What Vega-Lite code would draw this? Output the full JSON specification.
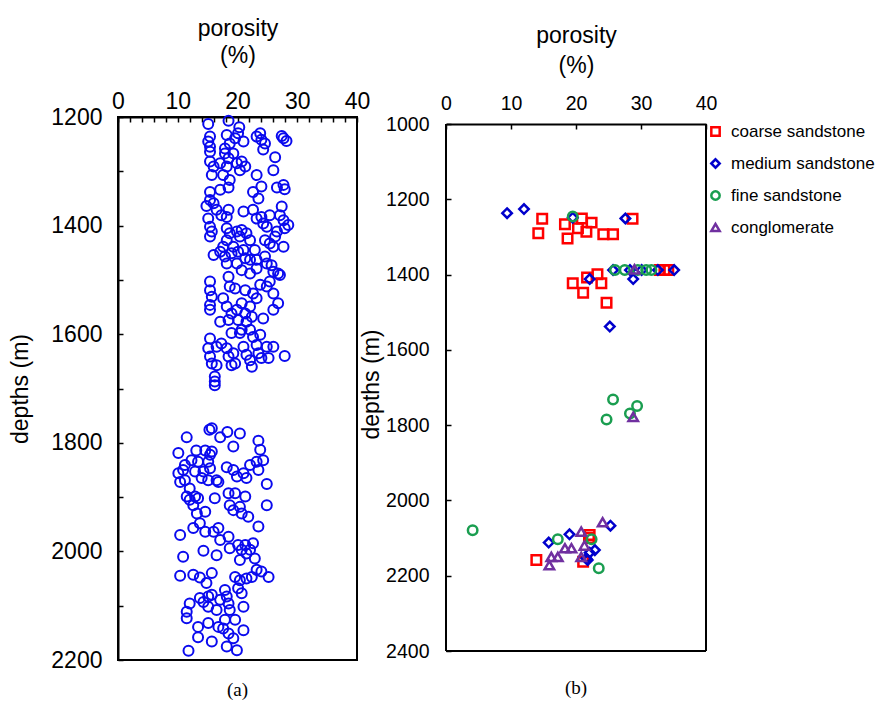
{
  "$schema": "https://vega.github.io/schema/vega-lite/v6.json",
  "background": "white",
  "padding": {"left": 8, "top": 16, "right": 0, "bottom": 0},
  "spacing": -11,
  "config": {
    "font": "Liberation Sans",
    "view": {"stroke": "black", "strokeWidth": 2},
    "axis": {"domainColor": "black", "domainWidth": 2, "tickColor": "black", "tickWidth": 1.5, "tickSize": -5, "labelColor": "black", "titleColor": "black", "labelFontSize": 23, "titleFontSize": 23, "titleFontWeight": "normal", "grid": false, "labelFlush": false, "labelOverlap": false, "labelBound": false, "labelFont": "Liberation Sans", "titleFont": "Liberation Sans", "titleLineHeight": 27},
    "legend": {"labelFont": "Liberation Sans", "labelFontSize": 17, "labelColor": "black"}
  },
  "hconcat": [
    {
      "width": 239,
      "height": 543,
      "data": {"name": "wellA"},
      "mark": {"type": "point", "shape": "circle", "filled": false, "color": "#0a0aee", "size": 100, "strokeWidth": 2, "opacity": 1},
      "encoding": {
        "x": {"field": "porosity", "type": "quantitative", "scale": {"domain": [0, 40], "nice": false, "zero": false},
          "axis": {"orient": "top", "title": ["porosity", "(%)"], "values": [0,2,4,6,8,10,12,14,16,18,20,22,24,26,28,30,32,34,36,38,40], "labelExpr": "datum.value % 10 === 0 ? datum.label : ''", "labelPadding": 9, "titlePadding": 23}},
        "y": {"field": "depth", "type": "quantitative", "scale": {"domain": [1200, 2200], "reverse": true, "nice": false, "zero": false},
          "axis": {"title": "depths (m)", "format": "d", "values": [1200,1300,1400,1500,1600,1700,1800,1900,2000,2100,2200], "labelExpr": "datum.value % 200 === 0 ? datum.label : ''", "labelPadding": 21, "titlePadding": 18}}
      },
      "title": {"text": "(a)", "orient": "bottom", "frame": "group", "anchor": "middle", "font": "Liberation Serif", "fontSize": 19, "fontWeight": "normal", "offset": 9, "color": "black"}
    },
    {
      "width": 260,
      "height": 534,
      "view": {"stroke": null},
      "title": {"text": "(b)", "orient": "bottom", "frame": "group", "anchor": "middle", "font": "Liberation Serif", "fontSize": 19, "fontWeight": "normal", "offset": 18, "color": "black"},
      "layer": [
        {
          "data": {"name": "wellB"},
          "mark": {"type": "point", "filled": false, "size": 90, "strokeWidth": 2.5, "opacity": 1},
          "encoding": {
            "x": {"field": "porosity", "type": "quantitative", "scale": {"domain": [0, 40], "nice": false, "zero": false},
              "axis": {"orient": "top", "offset": -7, "title": ["porosity", "(%)"], "values": [0,10,20,30,40], "labelFontSize": 19.5, "labelPadding": 16, "titlePadding": 16, "titleLineHeight": 30}},
            "y": {"field": "depth", "type": "quantitative", "scale": {"domain": [981.4, 2400], "reverse": true, "nice": false, "zero": false},
              "axis": {"title": "depths (m)", "format": "d", "values": [1000,1200,1400,1600,1800,2000,2200,2400], "domain": false, "labelFontSize": 19.5, "labelPadding": 22, "titlePadding": 2}},
            "color": {"field": "type", "type": "nominal",
              "scale": {"domain": ["coarse sandstone", "medium sandstone", "fine sandstone", "conglomerate"], "range": ["#ff0000", "#0000cc", "#1a9e50", "#7030a0"]},
              "legend": {"title": null, "orient": "right", "offset": -16, "padding": 6, "symbolSize": 70, "symbolStrokeWidth": 2.5, "rowPadding": 13, "labelOffset": 7}},
            "shape": {"field": "type", "type": "nominal",
              "scale": {"domain": ["coarse sandstone", "medium sandstone", "fine sandstone", "conglomerate"], "range": ["square", "diamond", "circle", "triangle-up"]},
              "legend": {"title": null, "orient": "right", "offset": -16, "padding": 6, "symbolSize": 70, "symbolStrokeWidth": 2.5, "rowPadding": 13, "labelOffset": 7}}
          }
        },
        {
          "data": {"values": [{}]},
          "mark": {"type": "rule", "color": "black", "strokeWidth": 2},
          "encoding": {
            "x": {"datum": 0, "type": "quantitative", "scale": {"domain": [0, 40], "nice": false, "zero": false}},
            "y": {"datum": 1000, "type": "quantitative", "scale": {"domain": [981.4, 2400], "reverse": true, "nice": false, "zero": false}},
            "y2": {"datum": 2400}
          }
        },
        {
          "data": {"values": [{}]},
          "mark": {"type": "rule", "color": "black", "strokeWidth": 2},
          "encoding": {
            "x": {"datum": 40, "type": "quantitative", "scale": {"domain": [0, 40], "nice": false, "zero": false}},
            "y": {"datum": 1000, "type": "quantitative", "scale": {"domain": [981.4, 2400], "reverse": true, "nice": false, "zero": false}},
            "y2": {"datum": 2400}
          }
        },
        {
          "data": {"values": [{}]},
          "mark": {"type": "rule", "color": "black", "strokeWidth": 2},
          "encoding": {
            "x": {"datum": 0, "type": "quantitative", "scale": {"domain": [0, 40], "nice": false, "zero": false}},
            "x2": {"datum": 40},
            "y": {"datum": 2400, "type": "quantitative", "scale": {"domain": [981.4, 2400], "reverse": true, "nice": false, "zero": false}}
          }
        }
      ]
    }
  ],
  "datasets": {
    "wellA": [
      {"porosity":15.1,"depth":1213},{"porosity":18.5,"depth":1207},{"porosity":20.3,"depth":1219},{"porosity":15.4,"depth":1236},{"porosity":15.1,"depth":1245},{"porosity":15.4,"depth":1255},{"porosity":18.2,"depth":1233},{"porosity":18.7,"depth":1249},{"porosity":17.9,"depth":1258},{"porosity":19.6,"depth":1239},{"porosity":20.1,"depth":1230},{"porosity":21.0,"depth":1245},{"porosity":23.2,"depth":1236},{"porosity":24.0,"depth":1242},{"porosity":24.6,"depth":1249},{"porosity":23.8,"depth":1230},{"porosity":27.7,"depth":1239},{"porosity":28.2,"depth":1244},{"porosity":27.4,"depth":1235},{"porosity":24.3,"depth":1260},
      {"porosity":15.4,"depth":1264},{"porosity":15.4,"depth":1282},{"porosity":16.0,"depth":1291},{"porosity":17.9,"depth":1267},{"porosity":18.5,"depth":1276},{"porosity":19.3,"depth":1267},{"porosity":19.9,"depth":1285},{"porosity":20.7,"depth":1282},{"porosity":21.3,"depth":1291},{"porosity":20.4,"depth":1298},{"porosity":26.3,"depth":1274},{"porosity":15.7,"depth":1307},{"porosity":17.1,"depth":1285},{"porosity":18.2,"depth":1291},{"porosity":17.6,"depth":1307},{"porosity":18.7,"depth":1316},{"porosity":23.2,"depth":1307},{"porosity":26.0,"depth":1298},
      {"porosity":15.4,"depth":1338},{"porosity":17.1,"depth":1334},{"porosity":18.5,"depth":1330},{"porosity":22.6,"depth":1338},{"porosity":24.0,"depth":1328},{"porosity":23.5,"depth":1350},{"porosity":26.6,"depth":1330},{"porosity":27.7,"depth":1325},{"porosity":27.9,"depth":1333},
      {"porosity":14.8,"depth":1364},{"porosity":15.4,"depth":1353},{"porosity":16.0,"depth":1359},{"porosity":16.5,"depth":1371},{"porosity":17.3,"depth":1381},{"porosity":18.5,"depth":1371},{"porosity":18.2,"depth":1384},{"porosity":21.0,"depth":1374},{"porosity":22.6,"depth":1371},{"porosity":23.2,"depth":1387},{"porosity":24.0,"depth":1384},{"porosity":24.3,"depth":1396},{"porosity":24.9,"depth":1402},{"porosity":25.4,"depth":1381},{"porosity":27.1,"depth":1381},{"porosity":27.4,"depth":1365},{"porosity":27.7,"depth":1390},{"porosity":27.9,"depth":1405},{"porosity":28.5,"depth":1399},
      {"porosity":15.1,"depth":1387},{"porosity":15.4,"depth":1402},{"porosity":15.7,"depth":1411},{"porosity":15.4,"depth":1420},{"porosity":18.2,"depth":1405},{"porosity":18.7,"depth":1414},{"porosity":19.9,"depth":1411},{"porosity":20.7,"depth":1408},{"porosity":20.4,"depth":1420},{"porosity":21.5,"depth":1414},{"porosity":22.1,"depth":1427},{"porosity":18.2,"depth":1427},{"porosity":17.6,"depth":1439},{"porosity":17.1,"depth":1448},{"porosity":16.0,"depth":1454},{"porosity":17.9,"depth":1457},{"porosity":19.0,"depth":1451},{"porosity":19.3,"depth":1439},{"porosity":20.1,"depth":1448},{"porosity":21.0,"depth":1445},{"porosity":21.3,"depth":1460},{"porosity":22.1,"depth":1463},{"porosity":22.9,"depth":1445},{"porosity":23.2,"depth":1463},{"porosity":24.6,"depth":1427},{"porosity":25.4,"depth":1433},{"porosity":26.0,"depth":1439},{"porosity":26.3,"depth":1420},{"porosity":27.7,"depth":1439},{"porosity":26.6,"depth":1411},
      {"porosity":18.2,"depth":1470},{"porosity":19.9,"depth":1470},{"porosity":20.7,"depth":1482},{"porosity":22.1,"depth":1488},{"porosity":23.2,"depth":1479},{"porosity":24.6,"depth":1457},{"porosity":24.9,"depth":1470},{"porosity":25.7,"depth":1473},{"porosity":26.0,"depth":1485},{"porosity":26.8,"depth":1488},{"porosity":27.1,"depth":1491},{"porosity":25.4,"depth":1503},
      {"porosity":15.4,"depth":1503},{"porosity":15.4,"depth":1519},{"porosity":15.7,"depth":1531},{"porosity":15.4,"depth":1546},{"porosity":15.4,"depth":1555},{"porosity":17.6,"depth":1534},{"porosity":18.5,"depth":1494},{"porosity":18.7,"depth":1512},{"porosity":19.6,"depth":1516},{"porosity":21.3,"depth":1519},{"porosity":22.6,"depth":1525},{"porosity":23.8,"depth":1509},{"porosity":23.2,"depth":1534},{"porosity":24.9,"depth":1512},{"porosity":26.0,"depth":1525},{"porosity":26.8,"depth":1543},{"porosity":26.0,"depth":1555},
      {"porosity":18.2,"depth":1549},{"porosity":19.0,"depth":1562},{"porosity":19.9,"depth":1555},{"porosity":20.7,"depth":1543},{"porosity":21.3,"depth":1562},{"porosity":22.1,"depth":1549},{"porosity":18.5,"depth":1574},{"porosity":20.1,"depth":1574},{"porosity":21.5,"depth":1577},{"porosity":22.4,"depth":1568},{"porosity":17.1,"depth":1577},{"porosity":20.7,"depth":1592},{"porosity":22.1,"depth":1592},{"porosity":22.6,"depth":1605},{"porosity":23.8,"depth":1601},{"porosity":24.3,"depth":1571},{"porosity":19.0,"depth":1598},{"porosity":20.4,"depth":1598},
      {"porosity":15.4,"depth":1608},{"porosity":15.1,"depth":1626},{"porosity":15.4,"depth":1641},{"porosity":15.7,"depth":1654},{"porosity":16.5,"depth":1623},{"porosity":17.3,"depth":1617},{"porosity":18.2,"depth":1626},{"porosity":18.5,"depth":1641},{"porosity":19.3,"depth":1635},{"porosity":19.6,"depth":1654},{"porosity":21.0,"depth":1623},{"porosity":21.5,"depth":1638},{"porosity":22.1,"depth":1648},{"porosity":22.4,"depth":1660},{"porosity":23.2,"depth":1620},{"porosity":23.5,"depth":1635},{"porosity":24.0,"depth":1644},{"porosity":24.9,"depth":1623},{"porosity":26.0,"depth":1623},{"porosity":25.2,"depth":1644},{"porosity":27.9,"depth":1640},{"porosity":16.5,"depth":1657},{"porosity":19.0,"depth":1657},{"porosity":16.2,"depth":1678},{"porosity":16.2,"depth":1687},{"porosity":16.2,"depth":1694},
      {"porosity":15.3,"depth":1776},{"porosity":15.7,"depth":1773},{"porosity":17.1,"depth":1790},{"porosity":18.3,"depth":1780},{"porosity":20.4,"depth":1783},{"porosity":19.3,"depth":1807},{"porosity":23.5,"depth":1796},{"porosity":11.5,"depth":1790},
      {"porosity":10.1,"depth":1819},{"porosity":11.2,"depth":1841},{"porosity":12.3,"depth":1832},{"porosity":13.1,"depth":1814},{"porosity":13.4,"depth":1835},{"porosity":14.6,"depth":1814},{"porosity":15.4,"depth":1822},{"porosity":15.1,"depth":1835},{"porosity":15.7,"depth":1816},{"porosity":15.4,"depth":1847},{"porosity":14.3,"depth":1853},{"porosity":12.9,"depth":1853},{"porosity":10.9,"depth":1850},{"porosity":10.1,"depth":1856},{"porosity":10.4,"depth":1872},{"porosity":11.2,"depth":1869},{"porosity":12.0,"depth":1884},{"porosity":14.0,"depth":1865},{"porosity":15.1,"depth":1869},{"porosity":16.5,"depth":1869},{"porosity":16.8,"depth":1872},{"porosity":18.2,"depth":1845},{"porosity":19.3,"depth":1850},{"porosity":19.9,"depth":1862},{"porosity":21.0,"depth":1856},{"porosity":21.5,"depth":1865},{"porosity":22.1,"depth":1841},{"porosity":23.2,"depth":1835},{"porosity":23.5,"depth":1850},{"porosity":23.8,"depth":1813},{"porosity":24.3,"depth":1832},{"porosity":24.9,"depth":1876},{"porosity":24.9,"depth":1915},
      {"porosity":11.5,"depth":1899},{"porosity":12.0,"depth":1905},{"porosity":12.9,"depth":1899},{"porosity":13.4,"depth":1902},{"porosity":12.6,"depth":1915},{"porosity":13.2,"depth":1930},{"porosity":14.6,"depth":1927},{"porosity":16.2,"depth":1902},{"porosity":18.5,"depth":1893},{"porosity":19.6,"depth":1893},{"porosity":18.7,"depth":1915},{"porosity":19.3,"depth":1924},{"porosity":20.4,"depth":1918},{"porosity":21.3,"depth":1899},{"porosity":20.7,"depth":1930},{"porosity":21.8,"depth":1936},{"porosity":23.5,"depth":1954},{"porosity":12.6,"depth":1957},{"porosity":13.7,"depth":1948},{"porosity":14.6,"depth":1964},{"porosity":10.4,"depth":1970},{"porosity":16.0,"depth":1964},{"porosity":16.8,"depth":1957},{"porosity":17.1,"depth":1979},{"porosity":18.5,"depth":1973},{"porosity":18.7,"depth":1994},{"porosity":20.1,"depth":1988},{"porosity":20.7,"depth":1997},{"porosity":21.3,"depth":1988},{"porosity":22.1,"depth":1997},{"porosity":22.6,"depth":1985},{"porosity":22.9,"depth":2013},{"porosity":21.5,"depth":2004},{"porosity":20.4,"depth":2016},
      {"porosity":10.9,"depth":2010},{"porosity":14.3,"depth":1999},{"porosity":16.5,"depth":2007},{"porosity":10.4,"depth":2045},{"porosity":12.6,"depth":2043},{"porosity":13.7,"depth":2048},{"porosity":14.8,"depth":2058},{"porosity":15.7,"depth":2040},{"porosity":19.6,"depth":2047},{"porosity":20.4,"depth":2053},{"porosity":21.5,"depth":2050},{"porosity":22.4,"depth":2047},{"porosity":23.2,"depth":2034},{"porosity":24.0,"depth":2037},{"porosity":25.2,"depth":2047},
      {"porosity":12.0,"depth":2096},{"porosity":11.5,"depth":2111},{"porosity":11.5,"depth":2123},{"porosity":13.7,"depth":2086},{"porosity":14.3,"depth":2093},{"porosity":15.1,"depth":2083},{"porosity":15.7,"depth":2080},{"porosity":15.1,"depth":2102},{"porosity":16.5,"depth":2108},{"porosity":17.1,"depth":2089},{"porosity":17.9,"depth":2071},{"porosity":18.2,"depth":2083},{"porosity":18.5,"depth":2096},{"porosity":18.7,"depth":2108},{"porosity":20.1,"depth":2068},{"porosity":20.7,"depth":2077},{"porosity":21.0,"depth":2102},{"porosity":17.9,"depth":2126},{"porosity":19.6,"depth":2126},{"porosity":15.1,"depth":2132},{"porosity":16.8,"depth":2139},{"porosity":17.6,"depth":2142},{"porosity":18.5,"depth":2151},{"porosity":13.4,"depth":2139},{"porosity":13.4,"depth":2158},{"porosity":15.7,"depth":2166},{"porosity":18.2,"depth":2175},{"porosity":19.3,"depth":2160},{"porosity":21.0,"depth":2145},{"porosity":11.8,"depth":2183},{"porosity":19.9,"depth":2182}
    ],
    "wellB": [
      {"type":"coarse sandstone","porosity":14.8,"depth":1252},{"type":"coarse sandstone","porosity":14.2,"depth":1290},{"type":"coarse sandstone","porosity":18.3,"depth":1266},{"type":"coarse sandstone","porosity":18.7,"depth":1304},{"type":"coarse sandstone","porosity":20.9,"depth":1251},{"type":"coarse sandstone","porosity":20.3,"depth":1277},{"type":"coarse sandstone","porosity":21.6,"depth":1286},{"type":"coarse sandstone","porosity":22.4,"depth":1262},{"type":"coarse sandstone","porosity":24.2,"depth":1293},{"type":"coarse sandstone","porosity":25.7,"depth":1293},{"type":"coarse sandstone","porosity":28.7,"depth":1252},{"type":"coarse sandstone","porosity":19.5,"depth":1423},{"type":"coarse sandstone","porosity":21.1,"depth":1448},{"type":"coarse sandstone","porosity":21.7,"depth":1408},{"type":"coarse sandstone","porosity":23.3,"depth":1399},{"type":"coarse sandstone","porosity":23.9,"depth":1423},{"type":"coarse sandstone","porosity":24.7,"depth":1475},{"type":"coarse sandstone","porosity":32.9,"depth":1388},{"type":"coarse sandstone","porosity":33.6,"depth":1388},{"type":"coarse sandstone","porosity":34.2,"depth":1388},{"type":"coarse sandstone","porosity":13.9,"depth":2158},{"type":"coarse sandstone","porosity":22.1,"depth":2092},{"type":"coarse sandstone","porosity":21.1,"depth":2163},{"type":"coarse sandstone","porosity":22.0,"depth":2100},
      {"type":"medium sandstone","porosity":9.4,"depth":1237},{"type":"medium sandstone","porosity":12.0,"depth":1226},{"type":"medium sandstone","porosity":27.6,"depth":1251},{"type":"medium sandstone","porosity":19.5,"depth":1249},{"type":"medium sandstone","porosity":22.1,"depth":1412},{"type":"medium sandstone","porosity":28.8,"depth":1412},{"type":"medium sandstone","porosity":25.2,"depth":1538},{"type":"medium sandstone","porosity":25.7,"depth":1388},{"type":"medium sandstone","porosity":28.3,"depth":1388},{"type":"medium sandstone","porosity":30.1,"depth":1388},{"type":"medium sandstone","porosity":32.6,"depth":1388},{"type":"medium sandstone","porosity":35.1,"depth":1388},{"type":"medium sandstone","porosity":15.8,"depth":2112},{"type":"medium sandstone","porosity":19.0,"depth":2090},{"type":"medium sandstone","porosity":25.3,"depth":2067},{"type":"medium sandstone","porosity":21.6,"depth":2154},{"type":"medium sandstone","porosity":22.1,"depth":2139},{"type":"medium sandstone","porosity":22.9,"depth":2132},{"type":"medium sandstone","porosity":21.8,"depth":2158},
      {"type":"fine sandstone","porosity":19.5,"depth":1246},{"type":"fine sandstone","porosity":26.0,"depth":1388},{"type":"fine sandstone","porosity":27.5,"depth":1388},{"type":"fine sandstone","porosity":29.5,"depth":1388},{"type":"fine sandstone","porosity":30.8,"depth":1388},{"type":"fine sandstone","porosity":31.6,"depth":1388},{"type":"fine sandstone","porosity":25.7,"depth":1732},{"type":"fine sandstone","porosity":29.4,"depth":1749},{"type":"fine sandstone","porosity":28.3,"depth":1769},{"type":"fine sandstone","porosity":24.7,"depth":1785},{"type":"fine sandstone","porosity":4.1,"depth":2079},{"type":"fine sandstone","porosity":17.2,"depth":2103},{"type":"fine sandstone","porosity":23.5,"depth":2180},{"type":"fine sandstone","porosity":22.4,"depth":2103},
      {"type":"conglomerate","porosity":28.8,"depth":1778},{"type":"conglomerate","porosity":29.0,"depth":1386},{"type":"conglomerate","porosity":24.1,"depth":2058},{"type":"conglomerate","porosity":16.2,"depth":2150},{"type":"conglomerate","porosity":15.9,"depth":2172},{"type":"conglomerate","porosity":17.2,"depth":2150},{"type":"conglomerate","porosity":18.3,"depth":2127},{"type":"conglomerate","porosity":19.3,"depth":2127},{"type":"conglomerate","porosity":20.8,"depth":2083},{"type":"conglomerate","porosity":20.8,"depth":2150},{"type":"conglomerate","porosity":21.3,"depth":2120}
    ]
  }
}
